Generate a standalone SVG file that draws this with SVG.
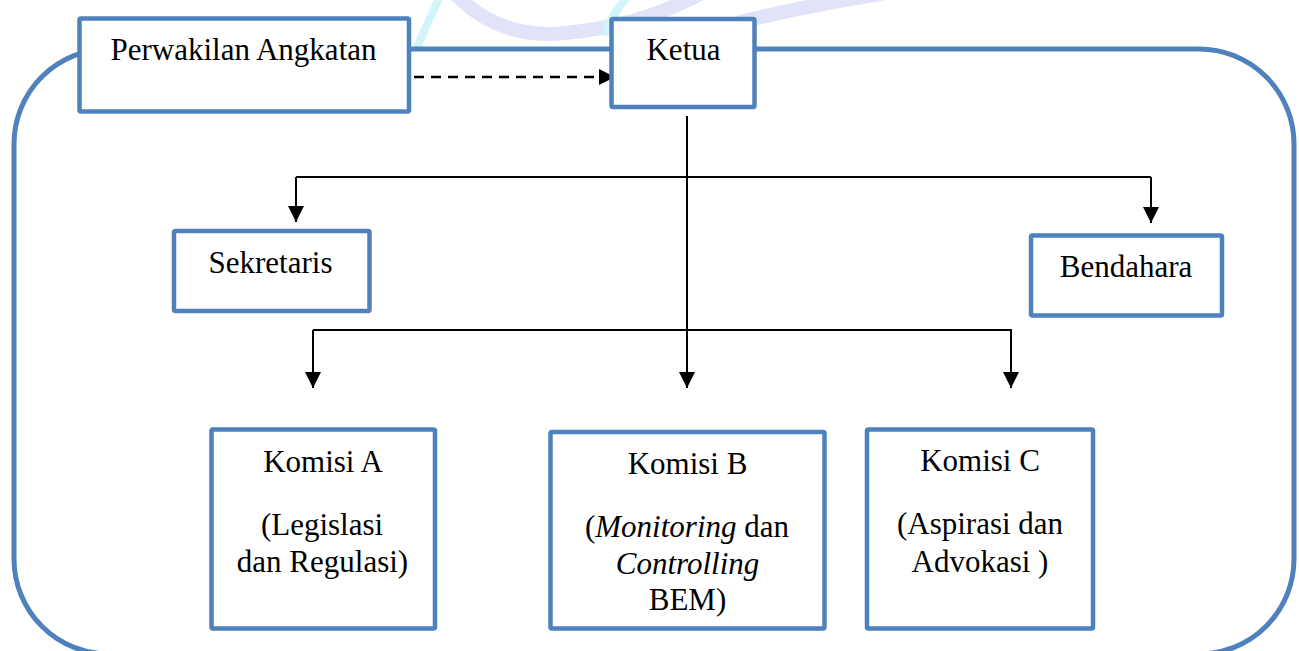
<svg xmlns="http://www.w3.org/2000/svg" width="1299" height="651" viewBox="0 0 1299 651">
  <style>
    .frame { fill: none; stroke: #4F81BD; stroke-width: 5; }
    .box { fill: #FFFFFF; stroke: #4F81BD; stroke-width: 4.5; }
    .lbl { font-family: "Liberation Serif", "Times New Roman", serif; font-size: 31px; fill: #000000; text-anchor: middle; }
    .it { font-style: italic; }
    .conn { fill: none; stroke: #000000; stroke-width: 2; }
    .dash { fill: none; stroke: #000000; stroke-width: 2.5; stroke-dasharray: 10 7; }
    .wm1 { fill: none; stroke: #E1E3F8; stroke-width: 14; stroke-linecap: round; }
    .wm2 { fill: none; stroke: #D2F5FB; stroke-width: 8; stroke-linecap: round; }
  </style>
  <defs>
    <marker id="arrow" markerUnits="userSpaceOnUse" markerWidth="16" markerHeight="16" refX="16" refY="8" orient="auto">
      <path d="M0,0 L16,8 L0,16 z" fill="#000000"/>
    </marker>
  </defs>
  <rect width="1299" height="651" fill="#FFFFFF"/>

  <g id="watermark">
    <path class="wm1" d="M455,-6 Q500,40 565,33 Q640,26 700,-6"/>
    <path class="wm1" d="M740,22 Q810,5 880,-6"/>
    <path class="wm2" d="M418,45 L440,-4"/>
    <path class="wm2" d="M606,32 Q612,14 628,-4"/>
  </g>

  <g id="frame">
    <rect class="frame" x="14" y="49" width="1280" height="605" rx="95" ry="95"/>
  </g>

  <g id="connectors">
    <path class="dash" d="M414,77 L615,77" marker-end="url(#arrow)"/>
    <path class="conn" d="M687,116 L687,388" marker-end="url(#arrow)"/>
    <path class="conn" d="M296,177 L1151,177"/>
    <path class="conn" d="M296,177 L296,222" marker-end="url(#arrow)"/>
    <path class="conn" d="M1151,177 L1151,223" marker-end="url(#arrow)"/>
    <path class="conn" d="M313,330 L1012,330"/>
    <path class="conn" d="M313,330 L313,388" marker-end="url(#arrow)"/>
    <path class="conn" d="M1011,330 L1011,388" marker-end="url(#arrow)"/>
  </g>

  <g id="perwakilan">
    <rect class="box" x="79.5" y="18.5" width="329.5" height="93" rx="1.5"/>
    <text class="lbl" x="243.5" y="60">Perwakilan Angkatan</text>
  </g>

  <g id="ketua">
    <rect class="box" x="611.5" y="19" width="143" height="88" rx="1.5"/>
    <text class="lbl" x="683.5" y="60">Ketua</text>
  </g>

  <g id="sekretaris">
    <rect class="box" x="174" y="231" width="195.5" height="80" rx="1.5"/>
    <text class="lbl" x="270.5" y="273">Sekretaris</text>
  </g>

  <g id="bendahara">
    <rect class="box" x="1031" y="235.5" width="191" height="80" rx="1.5"/>
    <text class="lbl" x="1126" y="277">Bendahara</text>
  </g>

  <g id="komisi-a">
    <rect class="box" x="211.5" y="429.5" width="223.5" height="199" rx="1.5"/>
    <text class="lbl" x="323" y="472">Komisi A</text>
    <text class="lbl" x="322" y="535">(Legislasi</text>
    <text class="lbl" x="322.5" y="572">dan Regulasi)</text>
  </g>

  <g id="komisi-b">
    <rect class="box" x="550.5" y="432" width="274" height="196.5" rx="1.5"/>
    <text class="lbl" x="687.5" y="473.5">Komisi B</text>
    <text class="lbl" x="687" y="537">(<tspan class="it">Monitoring</tspan> dan</text>
    <text class="lbl it" x="687.5" y="573.5">Controlling</text>
    <text class="lbl" x="687.5" y="610">BEM)</text>
  </g>

  <g id="komisi-c">
    <rect class="box" x="867" y="429.5" width="226" height="199" rx="1.5"/>
    <text class="lbl" x="980" y="471">Komisi C</text>
    <text class="lbl" x="980" y="533.5">(Aspirasi dan</text>
    <text class="lbl" x="980" y="572">Advokasi )</text>
  </g>
</svg>
